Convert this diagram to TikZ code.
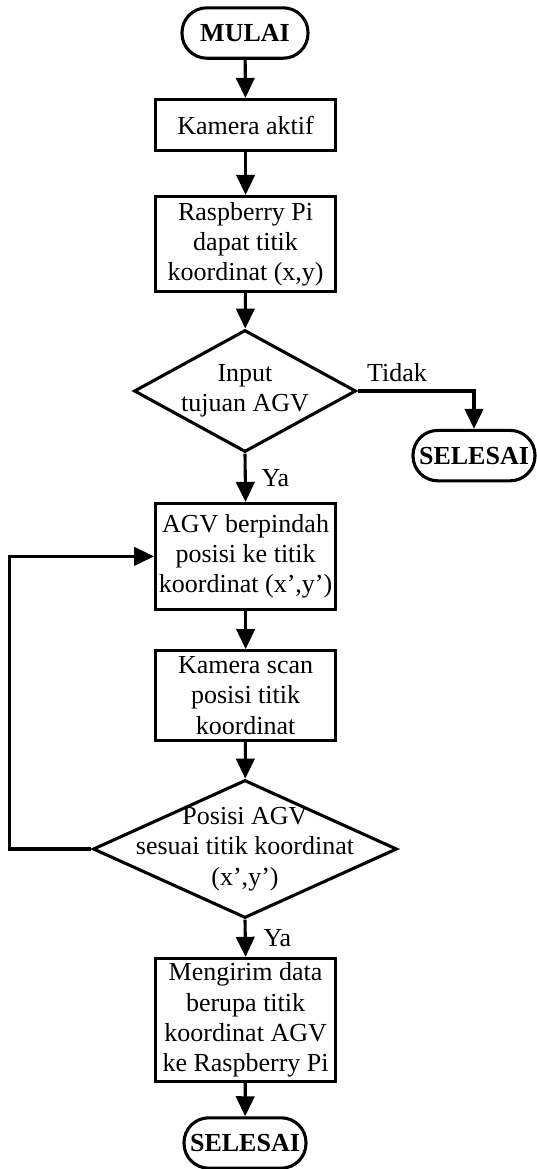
\documentclass[tikz,border=0pt]{standalone}
\usepackage{fontspec}
\setmainfont{Liberation Serif}
\usetikzlibrary{shapes.geometric, arrows.meta, positioning}

\begin{document}
\begin{tikzpicture}[
  term/.style={rectangle, draw, line width=2.2pt, rounded corners=0.62cm,
              minimum height=1.26cm, inner xsep=0.12cm, font=\fontsize{18.5}{21.5}\selectfont\bfseries},
  proc/.style={rectangle, draw, line width=2.2pt, minimum width=4.5cm,
              align=center, inner sep=0.08cm},
  decision/.style={diamond, draw, line width=2.2pt, inner sep=0pt},
  arr/.style={-{Triangle[width=0.46cm,length=0.5cm]}, line width=2.2pt},
  lbl/.style={font=\fontsize{18.5}{21.5}\selectfont},
  font=\fontsize{18.5}{21.5}\selectfont,
]
\useasboundingbox (0,0) rectangle (13.425,-29.225);

%% --- Start ---
\node[term, minimum width=3.15cm] (start) at (6.125,-0.825) {MULAI};
\node[proc, minimum height=1.28cm] (cam) at (6.14,-3.125) {Kamera aktif};
\node[proc, minimum height=2.38cm] (rpi) at (6.14,-6.1) {Raspberry Pi\\dapat titik\\koordinat (x,y)};

%% --- First decision ---
\node[decision, minimum width=5.55cm, minimum height=3.05cm,
      label={[align=center]center:Input\\tujuan AGV}] (d1) at (6.125,-9.775) {};
\node[term, minimum width=3.05cm] (end1) at (11.85,-11.39) {SELESAI};

%% --- Move and scan ---
\node[proc, minimum height=2.65cm] (agv) at (6.14,-13.91) {AGV berpindah\\posisi ke titik\\koordinat (x’,y’)};
\node[proc, minimum height=2.25cm] (scan) at (6.14,-17.39) {Kamera scan\\posisi titik\\koordinat};

%% --- Second decision ---
\node[decision, minimum width=7.6cm, minimum height=3.45cm,
      label={[align=center]center:Posisi AGV\\sesuai titik koordinat\\(x’,y’)}] (d2) at (6.125,-21.225) {};
\node[proc, minimum height=3.08cm] (send) at (6.14,-25.5) {Mengirim data\\berupa titik\\koordinat AGV\\ke Raspberry Pi};
\node[term, minimum width=3.05cm] (end2) at (6.125,-28.575) {SELESAI};

%% --- Arrows ---
\draw[arr] (start) -- (cam);
\draw[arr] (cam) -- (rpi);
\draw[arr] (rpi) -- (d1);
\draw[arr] (d1.east) -| node[lbl, above right, pos=0, inner sep=0.2cm] {Tidak} (end1.north);
\draw[arr] (d1.south) -- node[lbl, right, xshift=0.25cm] {Ya} (agv.north);
\draw[arr] (agv) -- (scan);
\draw[arr] (scan) -- (d2);
\draw[arr] (d2.south) -- node[lbl, right, xshift=0.3cm] {Ya} (send.north);
\draw[arr] (send) -- (end2);
\draw[arr] (d2.west) -- ++(-2.05,0) |- (agv.west);
\end{tikzpicture}
\end{document}
